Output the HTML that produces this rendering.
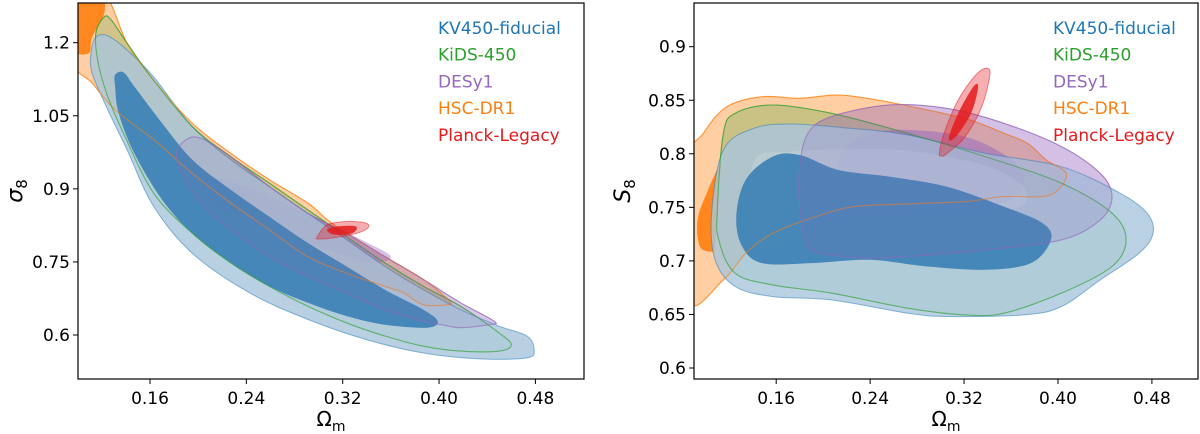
<!DOCTYPE html>
<html><head><meta charset="utf-8"><style>
body{margin:0;background:#fff;}
svg{display:block;font-family:"DejaVu Sans","Liberation Sans",sans-serif;}
</style></head><body>
<svg id="chart" width="1200" height="434" viewBox="0 0 1200 434" xmlns="http://www.w3.org/2000/svg"></svg>
<script>
// ---- data (Omega_m, sigma8) left panel ----
const leftKV450Outer=[[0.111,1.178],[0.115,1.211],[0.125,1.214],[0.141,1.185],[0.163,1.13],[0.195,1.028],[0.227,0.96],[0.259,0.905],[0.291,0.85],[0.323,0.796],[0.355,0.741],[0.387,0.693],[0.418,0.652],[0.450,0.618],[0.473,0.598],[0.479,0.570],[0.473,0.553],[0.434,0.551],[0.387,0.563],[0.339,0.591],[0.291,0.632],[0.243,0.686],[0.195,0.768],[0.163,0.864],[0.141,0.98],[0.125,1.062],[0.112,1.137]];
const leftKV450Inner=[[0.131,1.134],[0.138,1.139],[0.147,1.11],[0.170,1.035],[0.195,0.96],[0.227,0.898],[0.259,0.843],[0.291,0.789],[0.323,0.741],[0.355,0.693],[0.387,0.652],[0.399,0.628],[0.390,0.615],[0.355,0.621],[0.323,0.639],[0.291,0.666],[0.259,0.70],[0.227,0.748],[0.195,0.809],[0.170,0.878],[0.147,0.973],[0.134,1.055],[0.131,1.11]];
const leftKiDSOuter=[[0.115,1.219],[0.122,1.253],[0.128,1.246],[0.141,1.199],[0.163,1.123],[0.195,1.028],[0.227,0.966],[0.259,0.912],[0.291,0.857],[0.323,0.802],[0.355,0.748],[0.387,0.70],[0.418,0.659],[0.450,0.604],[0.460,0.580],[0.450,0.567],[0.418,0.567],[0.387,0.577],[0.355,0.598],[0.323,0.625],[0.291,0.659],[0.259,0.70],[0.227,0.748],[0.195,0.809],[0.163,0.891],[0.138,1.014],[0.125,1.089],[0.117,1.158]];
const leftDESOuter=[[0.182,0.973],[0.192,1.004],[0.205,1.001],[0.227,0.966],[0.259,0.905],[0.291,0.85],[0.323,0.809],[0.355,0.761],[0.387,0.714],[0.418,0.666],[0.446,0.628],[0.441,0.621],[0.418,0.615],[0.402,0.621],[0.387,0.628],[0.355,0.652],[0.323,0.686],[0.291,0.721],[0.259,0.761],[0.227,0.816],[0.205,0.864],[0.189,0.919]];
const leftDESInner=[[0.21,0.92],[0.24,0.905],[0.29,0.85],[0.34,0.79],[0.36,0.76],[0.34,0.75],[0.29,0.79],[0.24,0.84],[0.215,0.87]];
const leftHSCOuter=[[0.095,1.30],[0.122,1.30],[0.141,1.199],[0.163,1.123],[0.195,1.035],[0.227,0.973],[0.259,0.919],[0.291,0.871],[0.307,0.837],[0.323,0.809],[0.355,0.761],[0.387,0.714],[0.409,0.669],[0.406,0.662],[0.387,0.662],[0.371,0.686],[0.355,0.70],[0.323,0.727],[0.291,0.761],[0.259,0.816],[0.227,0.871],[0.195,0.932],[0.163,1.001],[0.131,1.062],[0.112,1.117],[0.095,1.164]];
const leftHSCInner=[[0.095,1.30],[0.119,1.30],[0.122,1.26],[0.112,1.212],[0.109,1.178],[0.095,1.192]];
const leftPlanckOuter=[[0.299,0.802],[0.307,0.826],[0.323,0.833],[0.339,0.830],[0.341,0.820],[0.332,0.809],[0.316,0.801],[0.300,0.797]];
const leftPlanckInner=[[0.307,0.816],[0.316,0.823],[0.331,0.823],[0.328,0.809],[0.313,0.806]];
// ---- data (Omega_m, S8) right panel ----
const rightKV450Outer=[[0.105,0.7445],[0.115,0.8036],[0.141,0.8238],[0.174,0.8278],[0.223,0.8238],[0.272,0.8176],[0.338,0.8005],[0.403,0.788],[0.453,0.7632],[0.476,0.7445],[0.481,0.7258],[0.469,0.7071],[0.436,0.6823],[0.403,0.6574],[0.371,0.6496],[0.305,0.6481],[0.272,0.6512],[0.207,0.6636],[0.157,0.6667],[0.125,0.6761],[0.108,0.701]];
const rightKV450Inner=[[0.126,0.7414],[0.134,0.7756],[0.157,0.7974],[0.180,0.7989],[0.213,0.7849],[0.256,0.7787],[0.305,0.7694],[0.354,0.7507],[0.387,0.7352],[0.394,0.7196],[0.377,0.6979],[0.338,0.6917],[0.289,0.6948],[0.239,0.701],[0.190,0.6979],[0.148,0.6979],[0.131,0.7134]];
const rightKiDSOuter=[[0.110,0.7507],[0.115,0.8191],[0.125,0.8378],[0.157,0.8456],[0.207,0.8378],[0.272,0.8191],[0.338,0.7974],[0.403,0.7725],[0.446,0.7445],[0.458,0.7196],[0.446,0.6948],[0.403,0.6699],[0.354,0.6512],[0.321,0.6496],[0.272,0.6558],[0.207,0.6699],[0.157,0.6776],[0.125,0.6885],[0.111,0.7196]];
const rightKiDSInner=[[0.138,0.745],[0.142,0.795],[0.170,0.802],[0.216,0.804],[0.272,0.803],[0.338,0.789],[0.370,0.77],[0.370,0.752],[0.338,0.745],[0.272,0.742],[0.207,0.735],[0.157,0.71],[0.140,0.72]];
const rightDESOuter=[[0.180,0.788],[0.187,0.8191],[0.207,0.8347],[0.256,0.8456],[0.305,0.8425],[0.354,0.8285],[0.403,0.8067],[0.436,0.7818],[0.446,0.76],[0.436,0.7383],[0.403,0.7196],[0.338,0.7103],[0.272,0.7041],[0.239,0.7025],[0.207,0.7056],[0.187,0.7134],[0.180,0.7507]];
const rightDESInner=[[0.212,0.788],[0.220,0.8067],[0.239,0.8191],[0.272,0.8223],[0.321,0.816],[0.357,0.7974],[0.371,0.7787],[0.364,0.76],[0.338,0.7507],[0.289,0.7461],[0.216,0.7476]];
const rightHSCOuter=[[0.085,0.79],[0.098,0.8191],[0.118,0.844],[0.148,0.8533],[0.180,0.8518],[0.213,0.8549],[0.246,0.8502],[0.289,0.8409],[0.325,0.8316],[0.354,0.8191],[0.374,0.8098],[0.390,0.7943],[0.407,0.7818],[0.400,0.7663],[0.387,0.76],[0.354,0.76],[0.321,0.7554],[0.272,0.7532],[0.226,0.7507],[0.194,0.7414],[0.157,0.7258],[0.134,0.7071],[0.115,0.6823],[0.085,0.6636]];
const rightHSCInner=[[0.093,0.7383],[0.102,0.7663],[0.113,0.7911],[0.111,0.7694],[0.108,0.7134],[0.105,0.7087],[0.095,0.7134]];
const rightPlanckOuter=[[0.299,0.8005],[0.303,0.8191],[0.315,0.8502],[0.330,0.8736],[0.339,0.8798],[0.342,0.8736],[0.335,0.844],[0.321,0.816],[0.305,0.7999],[0.301,0.798]];
const rightPlanckInner=[[0.307,0.8145],[0.315,0.8378],[0.328,0.8627],[0.332,0.862],[0.326,0.8378],[0.313,0.816]];
// ticks
const leftXTicks=[0.16,0.24,0.32,0.40,0.48];
const leftXTickLabels=["0.16","0.24","0.32","0.40","0.48"];
const leftYTicks=[0.6,0.75,0.9,1.05,1.2];
const leftYTickLabels=["0.6","0.75","0.9","1.05","1.2"];
const rightXTicks=[0.16,0.24,0.32,0.40,0.48];
const rightXTickLabels=["0.16","0.24","0.32","0.40","0.48"];
const rightYTicks=[0.6,0.65,0.7,0.75,0.8,0.85,0.9];
const rightYTickLabels=["0.6","0.65","0.7","0.75","0.8","0.85","0.9"];
const legendNames=["KV450-fiducial","KiDS-450","DESy1","HSC-DR1","Planck-Legacy"];

const C={kv:"#1f77b4",kids:"#2ca02c",des:"#9467bd",hsc:"#ff7f0e",pl:"#e41a1c"};
const NS="http://www.w3.org/2000/svg";
const svg=document.getElementById('chart');
function mk(tag,attrs,parent){const e=document.createElementNS(NS,tag);for(const k in attrs)e.setAttribute(k,attrs[k]);(parent||svg).appendChild(e);return e;}
function smooth(pts){const n=pts.length;let d=`M${pts[0][0]},${pts[0][1]}`;for(let i=0;i<n;i++){const p0=pts[(i-1+n)%n],p1=pts[i],p2=pts[(i+1)%n],p3=pts[(i+2)%n];const c1=[p1[0]+(p2[0]-p0[0])/6,p1[1]+(p2[1]-p0[1])/6],c2=[p2[0]-(p3[0]-p1[0])/6,p2[1]-(p3[1]-p1[1])/6];d+=`C${c1[0].toFixed(1)},${c1[1].toFixed(1)} ${c2[0].toFixed(1)},${c2[1].toFixed(1)} ${p2[0].toFixed(1)},${p2[1].toFixed(1)}`;}return d+'Z';}

function panel(cfg){
  const g=mk('g',{});
  
  
  const sx=v=>cfg.px0+(v-cfg.x0)/(cfg.x1-cfg.x0)*(cfg.px1-cfg.px0);
  const sy=v=>cfg.py0+(v-cfg.y0)/(cfg.y1-cfg.y0)*(cfg.py1-cfg.py0);
  const cid='clip-'+cfg.name;
  const cp=mk('clipPath',{id:cid},g);
  mk('rect',{x:cfg.L,y:cfg.T,width:cfg.R-cfg.L,height:cfg.B-cfg.T},cp);
  const plot=mk('g',{'clip-path':`url(#${cid})`},g);
  cfg.series.forEach(s=>{
    const o=mk('path',{d:smooth(s.outer.map(p=>[sx(p[0]),sy(p[1])])),fill:s.fill||s.color,'fill-opacity':s.fo,stroke:(s.line||s.nostroke)?'none':s.color,'stroke-width':1,'stroke-opacity':0.5},plot);
    
    
    if(s.inner){const i=mk('path',{d:smooth(s.inner.map(p=>[sx(p[0]),sy(p[1])])),fill:s.ifill||s.color,'fill-opacity':s.fi,stroke:'none'},plot);
      
      }
    if(s.line){const l=mk('path',{d:smooth(s.outer.map(p=>[sx(p[0]),sy(p[1])])),fill:'none',stroke:s.color,'stroke-width':1.1,'stroke-opacity':0.6},plot);
      
      }
  });
  const fr=mk('rect',{x:cfg.L,y:cfg.T,width:cfg.R-cfg.L,height:cfg.B-cfg.T,fill:'none',stroke:'#000','stroke-width':1.2},g);
  
  
  cfg.xt.forEach((v,i)=>{const x=sx(v);mk('line',{x1:x,x2:x,y1:cfg.B,y2:cfg.B+5,stroke:'#000'},g);
    const t=mk('text',{x:x,y:cfg.B+25,'text-anchor':'middle','font-size':17},g);t.textContent=cfg.xl[i];
    
    });
  cfg.yt.forEach((v,i)=>{const y=sy(v);mk('line',{x1:cfg.L-5,x2:cfg.L,y1:y,y2:y,stroke:'#000'},g);
    const t=mk('text',{x:cfg.L-8,y:y+6,'text-anchor':'end','font-size':17},g);t.textContent=cfg.yl[i];
    
    });
  const xt=mk('text',{x:(cfg.L+cfg.R)/2,y:426,'text-anchor':'middle','font-size':20},g);
  xt.innerHTML='Ω<tspan font-size="14" dy="5">m</tspan>';
  
  
  const yt=mk('text',{x:0,y:0,'text-anchor':'middle','font-size':22,transform:`translate(${cfg.ylx},191) rotate(-90)`},g);
  yt.innerHTML='<tspan font-style="italic">'+cfg.ylab+'</tspan><tspan font-size="15" dy="5">8</tspan>';
  
  
  const cols=[C.kv,C.kids,C.des,C.hsc,C.pl];
  legendNames.forEach((n,i)=>{const t=mk('text',{x:cfg.legx,y:34+i*26.7,'font-size':17,fill:cols[i]},g);t.textContent=n;
    
    });
}
const KVF="#a9c6dc", KVI="#3a80b4";
panel({name:'left-panel',L:78,R:584,T:3,B:379,px0:150,px1:535.4,x0:0.16,x1:0.48,py0:42.7,py1:335,y0:1.2,y1:0.6,
  xt:leftXTicks,xl:leftXTickLabels,yt:leftYTicks,yl:leftYTickLabels,ylab:'σ',ylx:22,legx:438,
  series:[
   {key:'hsc',color:C.hsc,outer:leftHSCOuter,inner:leftHSCInner,fo:0.38,fi:0.9},
   {key:'kids',color:C.kids,outer:leftKiDSOuter,fo:0.22},
   {key:'des',color:C.des,outer:leftDESOuter,inner:leftDESInner,fo:0.28,fi:0.4},
   {key:'kv450',color:C.kv,fill:KVF,ifill:KVI,outer:leftKV450Outer,inner:leftKV450Inner,fo:0.82,fi:0.9},
   {key:'hsc-line',color:C.hsc,outer:leftHSCOuter,fo:0,line:true},
   {key:'kids-line',color:C.kids,outer:leftKiDSOuter,fo:0,line:true},
   {key:'des-line',color:C.des,outer:leftDESOuter,fo:0.12,line:true},
   {key:'planck',color:C.pl,outer:leftPlanckOuter,inner:leftPlanckInner,fo:0.35,fi:0.85}]});
panel({name:'right-panel',L:694,R:1198,T:3,B:379,px0:776.2,px1:1151.9,x0:0.16,x1:0.48,py0:46.7,py1:368,y0:0.9,y1:0.6,
  xt:rightXTicks,xl:rightXTickLabels,yt:rightYTicks,yl:rightYTickLabels,ylab:'S',ylx:630,legx:1053,
  series:[
   {key:'hsc',color:C.hsc,outer:rightHSCOuter,inner:rightHSCInner,fo:0.38,fi:0.9},
   {key:'kids',color:C.kids,outer:rightKiDSOuter,fo:0.25},
   {key:'des',color:C.des,outer:rightDESOuter,inner:rightDESInner,fo:0.3,fi:0.5},
   {key:'kv450',color:C.kv,fill:KVF,outer:rightKV450Outer,fo:0.8},
   {key:'kids-inner',color:"#ffffff",outer:rightKiDSInner,fo:0.12,nostroke:true},
   {key:'kv450-inner',color:C.kv,fill:KVI,outer:rightKV450Inner,fo:0.9,nostroke:true},
   {key:'hsc-line',color:C.hsc,outer:rightHSCOuter,fo:0,line:true},
   {key:'kids-line',color:C.kids,outer:rightKiDSOuter,fo:0,line:true},
   {key:'des-line',color:C.des,outer:rightDESOuter,fo:0.15,line:true},
   {key:'planck',color:C.pl,outer:rightPlanckOuter,inner:rightPlanckInner,fo:0.35,fi:0.85}]});
</script>
</body></html>
